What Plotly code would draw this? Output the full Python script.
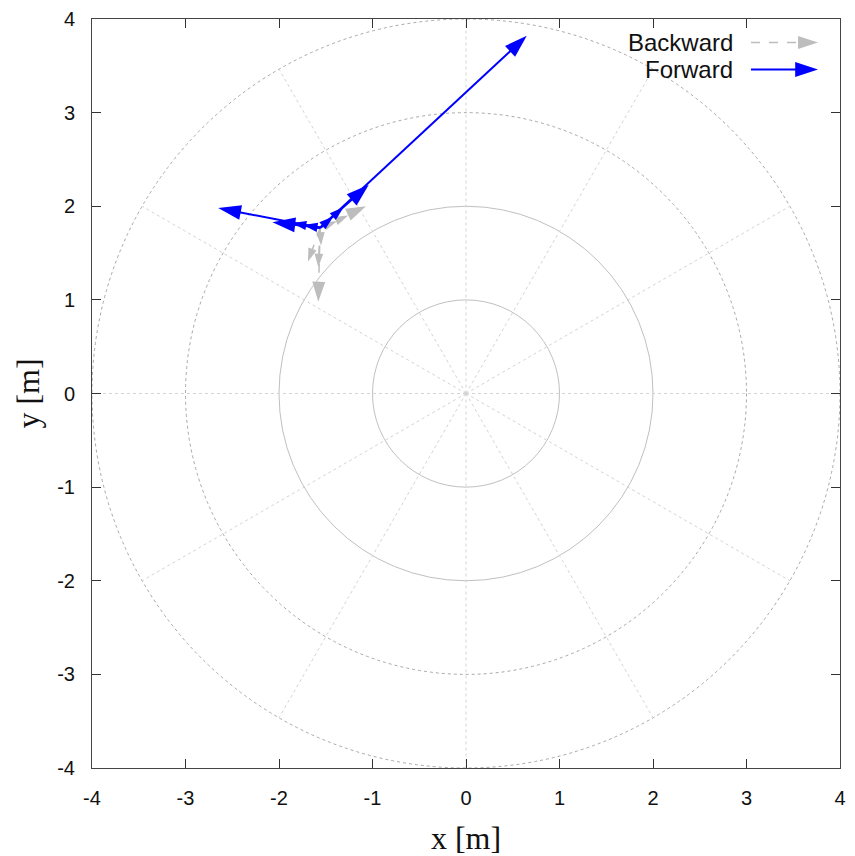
import math
import plotly.graph_objects as go

# ---------------- data ----------------
# Forward vectors (start -> end), metres
fwd_x0 = [-1.56, -1.56, -1.56, -1.56, -1.56, -1.56, -1.56, -1.56]
fwd_y0 = [1.77, 1.77, 1.77, 1.77, 1.77, 1.77, 1.77, 1.77]
fwd_x1 = [0.65, -1.04, -1.31, -1.42, -2.65, -2.07, -1.86, -1.74]
fwd_y1 = [3.82, 2.23, 1.99, 1.89, 1.98, 1.83, 1.82, 1.80]

# Backward vectors (start -> end), metres
bwd_x0 = [-1.56, -1.56, -1.56, -1.56, -1.56, -1.56, -1.56]
bwd_y0 = [1.77, 1.77, 1.77, 1.77, 1.77, 1.77, 1.77]
bwd_x1 = [-1.58, -1.58, -1.69, -1.55, -1.07, -1.26, -1.38]
bwd_y1 = [0.98, 1.35, 1.41, 1.58, 2.00, 1.90, 1.84]

grid_radii = [1, 2, 3, 4]
grid_angles_deg = [0, 30, 60, 90, 120, 150, 180, 210, 240, 270, 300, 330]
tick_vals = [-4, -3, -2, -1, 0, 1, 2, 3, 4]
tick_text = ["-4", "-3", "-2", "-1", "0", "1", "2", "3", "4"]

BLUE = "#0000ff"
GRAY = "#bdbdbd"

fig = go.Figure()
shapes = []
annotations = []

# polar grid circles
for r in grid_radii:
    shapes.append(dict(type="circle", xref="x", yref="y", x0=-r, x1=r, y0=-r, y1=r,
                       line=dict(color="#c0c0c0" if r <= 2 else "#a8a8a8", width=1,
                                 dash="solid" if r <= 2 else "dot"),
                       layer="below"))
# radial lines
Rmax = max(grid_radii)
for a in grid_angles_deg:
    t = math.radians(a)
    shapes.append(dict(type="line", xref="x", yref="y", x0=0, y0=0,
                       x1=Rmax * math.cos(t), y1=Rmax * math.sin(t),
                       line=dict(color="#d4d4d4", width=1, dash="dot"), layer="below"))


def add_vec(x0, y0, x1, y1, color, width, dash, hsize, xa="x", ya="y"):
    fig.add_trace(go.Scatter(
        x=[x0, x1], y=[y0, y1], mode="lines+markers", xaxis=xa, yaxis=ya,
        line=dict(color=color, width=width, dash=dash),
        marker=dict(symbol="arrow", size=[0, hsize], angleref="previous",
                    color=color, opacity=[0, 1], line=dict(width=0)),
        showlegend=False, hoverinfo="skip", cliponaxis=False))


for x0, y0, x1, y1 in zip(bwd_x0, bwd_y0, bwd_x1, bwd_y1):
    L = math.hypot(x1 - x0, y1 - y0)
    add_vec(x0, y0, x1, y1, GRAY, 1.5, "dash", 21 if L > 0.5 else 14)

for x0, y0, x1, y1 in zip(fwd_x0, fwd_y0, fwd_x1, fwd_y1):
    L = math.hypot(x1 - x0, y1 - y0)
    add_vec(x0, y0, x1, y1, BLUE, 2, "solid", 24 if L > 0.5 else 15)

# custom gnuplot-like key (drawn on an overlay axis spanning the plot area)
key_font = dict(family="Liberation Sans, Arial, sans-serif", size=24, color="#111")
key_labels = ["Backward", "Forward"]
key_y = [0.9686, 0.9326]
for lab, yy in zip(key_labels, key_y):
    annotations.append(dict(xref="paper", yref="paper", x=0.859, y=yy, text=lab,
                            showarrow=False, xanchor="right", yanchor="middle", font=key_font))
add_vec(0.881, key_y[0], 0.9706, key_y[0], GRAY, 1.5, "dash", 21, "x2", "y2")
add_vec(0.881, key_y[1], 0.9706, key_y[1], BLUE, 2, "solid", 24, "x2", "y2")

axis_common = dict(range=[-4, 4], tickvals=tick_vals, ticktext=tick_text, ticks="inside",
                   ticklen=9, tickcolor="#333", showline=True, linecolor="#444", linewidth=1,
                   mirror="ticks", showgrid=False, zeroline=False, automargin=False,
                   tickfont=dict(family="Liberation Sans, Arial, sans-serif", size=20, color="#111"))

fig.update_layout(
    width=855, height=856,
    margin=dict(l=92, r=15, t=19, b=88),
    paper_bgcolor="white", plot_bgcolor="white",
    showlegend=False,
    shapes=shapes, annotations=annotations,
    xaxis=dict(**axis_common, ticklabelstandoff=12,
               title=dict(text="x [m]", standoff=19,
                          font=dict(family="Liberation Serif, Times New Roman, serif", size=32, color="#111"))),
    yaxis=dict(**axis_common, ticklabelstandoff=12,
               title=dict(text="y [m]", standoff=8,
                          font=dict(family="Liberation Serif, Times New Roman, serif", size=32, color="#111"))),
    xaxis2=dict(range=[0, 1], overlaying="x", anchor="y2", visible=False, fixedrange=True),
    yaxis2=dict(range=[0, 1], overlaying="y", anchor="x2", visible=False, fixedrange=True),
)

fig.write_html("out.html")
